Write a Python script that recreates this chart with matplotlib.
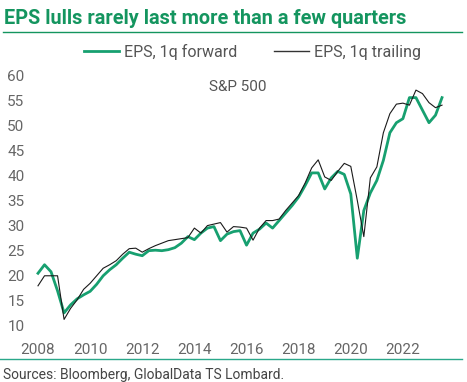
import matplotlib
matplotlib.use("Agg")
import matplotlib.pyplot as plt
from matplotlib.lines import Line2D
import numpy as np

plt.rcParams['font.family'] = ['Roboto', 'DejaVu Sans']

start_year = 2008.0
eps_forward = [
    20.5, 22.2, 20.8, 17.0,
    12.6, 14.2, 15.4, 16.2,
    16.9, 18.3, 20.0, 21.2,
    22.2, 23.5, 24.7, 24.3,
    24.0, 25.0, 25.1, 25.0,
    25.2, 25.6, 26.5, 27.8,
    27.2, 28.5, 29.5, 29.8,
    27.0, 28.3, 28.8, 29.0,
    26.1, 28.5, 29.3, 30.5,
    29.5, 31.0, 32.5, 34.0,
    35.7, 38.0, 40.5, 40.5,
    37.3, 39.5, 40.8, 40.2,
    36.3, 23.5, 33.0, 36.5,
    39.0, 43.0, 48.5, 50.5,
    51.3, 55.5, 55.5, 53.0,
    50.5, 52.0, 55.5,
]
eps_trailing = [
    18.0, 20.0, 20.0, 20.0,
    11.3, 13.5, 15.2, 17.3,
    18.5, 20.0, 21.5, 22.2,
    23.0, 24.3, 25.4, 25.5,
    24.7, 25.4, 26.0, 26.5,
    27.0, 27.2, 27.4, 27.6,
    29.5, 28.5, 30.0, 30.3,
    30.6, 28.7, 29.8, 29.7,
    29.5, 27.1, 29.5, 31.0,
    31.0, 31.3, 33.0, 34.5,
    36.0, 38.5, 41.5, 43.1,
    39.7, 39.0, 40.8, 42.4,
    41.8, 35.0, 27.8, 39.5,
    41.7, 48.5, 52.3, 54.2,
    54.4, 54.0, 57.0, 56.3,
    54.5, 53.5, 54.0,
]
x_ticks = [2008, 2010, 2012, 2014, 2016, 2018, 2020, 2022]
y_ticks = [10, 15, 20, 25, 30, 35, 40, 45, 50, 55, 60]

dates = start_year + 0.25 * np.arange(len(eps_forward))

W, H = 467, 382
fig = plt.figure(figsize=(W / 100, H / 100), dpi=100)
GREEN = '#17a070'
TITLE_GREEN = '#14955f'
GRAY = '#666666'

# axes placement in pixels
x0, x1 = 30, 460
ytop, ybot = 65, 336
ax = fig.add_axes([x0 / W, (H - ybot) / H, (x1 - x0) / W, (ybot - ytop) / H])

ax.plot(dates, eps_forward, color=GREEN, lw=2.0, solid_joinstyle='round')
ax.plot(dates, eps_trailing, color='#1a1a1a', lw=0.8)

ax.set_xlim(2007.693, 2024.19)
ax.set_ylim(8, 62)
ax.set_xticks(x_ticks)
ax.set_yticks(y_ticks)
for s in ax.spines.values():
    s.set_visible(False)
ax.tick_params(axis='both', length=0, labelsize=11, labelcolor=GRAY)
ax.tick_params(axis='y', pad=4)
ax.tick_params(axis='x', pad=5)

ax.text(2015.67, 57.6, 'S&P 500', fontsize=11, color='#555555', ha='center', va='center')

# title
fig.text(4 / W, 1 - 18 / H, 'EPS lulls rarely last more than a few quarters',
         fontsize=14.3, fontweight='bold', color=TITLE_GREEN, ha='left', va='center')
fig.add_artist(Line2D([3 / W, 462 / W], [1 - 32 / H, 1 - 32 / H], color=TITLE_GREEN, lw=1.0))

# legend
handles = [Line2D([], [], color=GREEN, lw=2.0), Line2D([], [], color='#333333', lw=1.0)]
leg = fig.legend(handles, ['EPS, 1q forward', 'EPS, 1q trailing'], ncol=2, frameon=False,
                 loc='center left', bbox_to_anchor=(84 / W, 1 - 52 / H),
                 fontsize=11.5, handlelength=2.2, handletextpad=0.3, columnspacing=2.3,
                 borderaxespad=0, borderpad=0)
for t in leg.get_texts():
    t.set_color('#555555')

# bottom rule and source
fig.add_artist(Line2D([0, 462 / W], [1 - 359 / H, 1 - 359 / H], color='#2aa88a', lw=1.0))
fig.text(3 / W, 1 - 375 / H, 'Sources: Bloomberg, GlobalData TS Lombard.',
         fontsize=10, color='#444444', ha='left', va='center')

fig.savefig('out.png', dpi=100)
